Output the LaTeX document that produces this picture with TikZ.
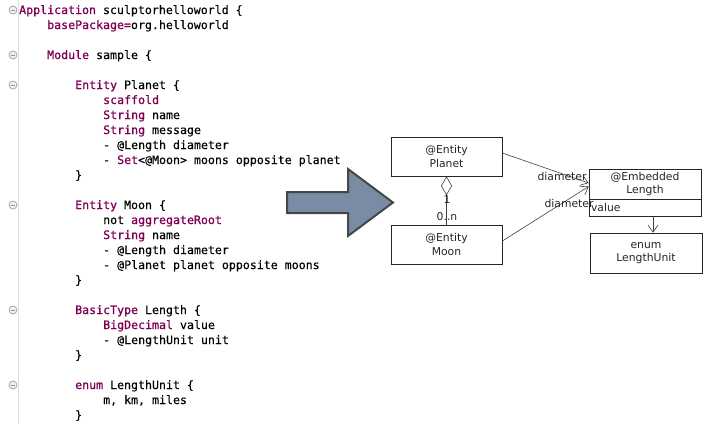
\documentclass[tikz,border=0pt]{standalone}
\usepackage{fontspec}
\newfontfamily\codefont[FakeBold=0.25]{DejaVu Sans Mono}
\newfontfamily\codekwfont[FakeBold=0.9]{DejaVu Sans Mono}
\newfontfamily\umlfont{DejaVu Sans}
\usetikzlibrary{arrows.meta}
\definecolor{kwc}{HTML}{7F0055}
\definecolor{arrowfill}{RGB}{122,140,163}
\definecolor{arrowedge}{RGB}{70,70,70}
\definecolor{foldc}{RGB}{140,150,165}
\newcommand\kw[1]{{\codekwfont\color{kwc}#1}}
\begin{document}
\begin{tikzpicture}[x=1pt,y=-1pt,
 code/.style={anchor=base west, inner sep=0pt, font=\fontsize{11.6}{14}\codefont\selectfont},
 fold/.style={circle, draw=foldc, fill=gray!12, minimum size=8pt, inner sep=0pt, line width=0.6pt,
   path picture={\draw[foldc,line width=0.7pt] ([xshift=-2.2pt]path picture bounding box.center) -- ([xshift=2.2pt]path picture bounding box.center);}},
 umlbox/.style={draw=black!85, line width=0.7pt, minimum width=111pt, minimum height=39pt, inner sep=1pt, align=center, text=black!85, font=\umlfont\fontsize{10.8}{13.5}\selectfont},
 lbl/.style={inner sep=0pt, font=\umlfont\fontsize{10.8}{12}\selectfont, text=black!85},
 assoc/.style={draw=black!75, line width=0.6pt, -{Straight Barb[length=7pt,width=10pt]}},
]
\useasboundingbox (0,0) rectangle (705,424);
\fill[white] (0,0) rectangle (705,424);
% gutter
\draw[gray!25, line width=0.8pt] (18,0) -- (18,424);
% fold markers
\foreach \yy/\nm in {10/fa,55/fb,85/fc,205/fd,310/fe,385/ff}
  \node[fold] (\nm) at (13,\yy) {};
% code lines
\node[code] (l1)  at (19,14)  {\kw{Application} sculptorhelloworld \{};
\node[code] (l2)  at (47,29)  {\kw{basePackage=}org.helloworld};
\node[code] (l3)  at (47,59)  {\kw{Module} sample \{};
\node[code] (l4)  at (75,89)  {\kw{Entity} Planet \{};
\node[code] (l5)  at (103,104) {\kw{scaffold}};
\node[code] (l6)  at (103,119) {\kw{String} name};
\node[code] (l7)  at (103,134) {\kw{String} message};
\node[code] (l8)  at (103,149) {- @Length diameter};
\node[code] (l9)  at (103,164) {- \kw{Set}<@Moon> moons opposite planet};
\node[code] (l10) at (75,179)  {\}};
\node[code] (l11) at (75,209)  {\kw{Entity} Moon \{};
\node[code] (l12) at (103,224) {not \kw{aggregateRoot}};
\node[code] (l13) at (103,239) {\kw{String} name};
\node[code] (l14) at (103,254) {- @Length diameter};
\node[code] (l15) at (103,269) {- @Planet planet opposite moons};
\node[code] (l16) at (75,284)  {\}};
\node[code] (l17) at (75,314)  {\kw{BasicType} Length \{};
\node[code] (l18) at (103,329) {\kw{BigDecimal} value};
\node[code] (l19) at (103,344) {- @LengthUnit unit};
\node[code] (l20) at (75,359)  {\}};
\node[code] (l21) at (75,389)  {\kw{enum} LengthUnit \{};
\node[code] (l22) at (103,404) {m, km, miles};
\node[code] (l23) at (75,419)  {\}};
% big arrow
\filldraw[fill=arrowfill, draw=arrowedge, line width=2pt, line join=miter]
  (287,192) -- (348,192) -- (348,169) -- (393,202.5) -- (348,236) -- (348,213) -- (287,213) -- cycle;
% UML
\node[umlbox] (planet) at (446.5,156.5) {@Entity\\Planet};
\node[umlbox] (moon)   at (446.5,244.5) {@Entity\\Moon};
\node[umlbox, minimum width=112pt, minimum height=30pt] (len) at (645,184) {@Embedded\\Length};
\node[draw=black!85, line width=0.7pt, minimum height=17pt, inner xsep=2pt, inner ysep=0pt, text width=108pt, align=left, text=black!85, font=\umlfont\fontsize{10.8}{12}\selectfont] (lenv) at (645,207.5) {value};
\node[umlbox, minimum width=112pt, minimum height=40pt] (unit) at (646,253) {enum\\LengthUnit};
% connectors
\draw[draw=black!75, line width=0.6pt, {Diamond[open,length=19pt,width=11pt]}-] (planet.south) -- (moon.north);
\node[lbl] (one) at (447,199.5) {1};
\node[lbl] (mult) at (447,217) {0..n};
\draw[assoc] ([yshift=3.5pt]planet.east) -- ([yshift=1pt]len.west);
\draw[assoc] ([yshift=3.5pt]moon.east) -- ([yshift=-2.5pt]len.west);
\node[lbl] (d1) at (562,176.5) {diameter};
\node[lbl] (d2) at (569,203) {diameter};
\draw[assoc] ([xshift=8pt]lenv.south) -- ([xshift=8pt]lenv.south |- unit.north);
\end{tikzpicture}
\end{document}
